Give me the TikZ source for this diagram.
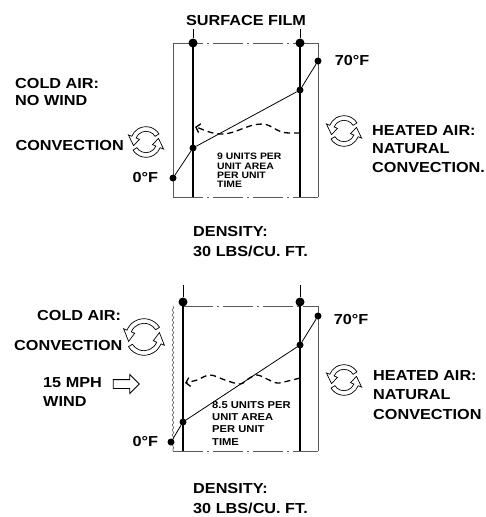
\documentclass[tikz,border=0pt]{standalone}
\usepackage{fontspec}
\setmainfont{Liberation Sans}[FakeStretch=1.12]
\usepackage{tikz}
\usetikzlibrary{arrows.meta, decorations.pathmorphing, positioning, shapes.arrows}

% two hollow curved arrows chasing each other round a circle
\newcommand\convloop[2]{%
  \begin{scope}[shift={#1}]
    \foreach \a in {0,180}{
      \draw[circarrow] (\a+32:#2+2.3pt) arc[start angle=\a+32, end angle=\a+158, radius=#2+2.3pt]
        -- (\a+158:#2+6pt) -- (\a+196:#2) -- (\a+158:#2-6pt) -- (\a+158:#2-2.3pt)
        arc[start angle=\a+158, end angle=\a+32, radius=#2-2.3pt] -- cycle;
    }
  \end{scope}}

\begin{document}
\begin{tikzpicture}[
    x=1pt, y=-1pt,
    >=Stealth,
    lbl/.style={font=\bfseries\fontsize{14.5}{18.5}\selectfont, inner sep=0pt, align=left},
    note/.style={font=\bfseries\fontsize{9.3}{9.4}\selectfont, inner sep=0pt, align=left},
    dot/.style={circle, fill=black, inner sep=0pt, minimum size=7pt},
    bigdot/.style={dot, minimum size=9pt},
    wall/.style={line width=2.4pt},
    rimline/.style={black!65, line width=0.6pt},
    dashdot/.style={dash pattern=on 30pt off 4pt on 2pt off 4pt},
    tline/.style={line width=0.8pt},
    heatflow/.style={line width=1.3pt, dash pattern=on 6pt off 4pt,
                     -{Straight Barb[length=4pt, width=9pt]}},
    circarrow/.style={draw, fill=white, line width=0.7pt},
    windarrow/.style={single arrow, draw, line width=0.8pt, minimum height=26pt,
                      minimum width=18pt, single arrow head extend=5pt, inner sep=4pt},
]
    \useasboundingbox (0,0) rectangle (485,517);

    % ── Upper panel: no wind ─────────────────────
    \coordinate (baseA) at (0,197);
    \draw[rimline] (173,43) -- (173,197);
    \draw[rimline] (318,43) -- (318,197);
    \draw[rimline, dashdot] (173,43) -- (318,43);
    \draw[rimline, dashdot] (173,197) -- (318,197);

    \node[lbl, anchor=north] (film) at (246,15) {SURFACE FILM};
    \node[bigdot] (filmAL) at (193,43) {};
    \node[bigdot] (filmAR) at (300,43) {};
    \draw[tline] (filmAL) -- ([yshift=-3pt]filmAL |- film.south);
    \draw[tline] (filmAR) -- ([yshift=-3pt]filmAR |- film.south);
    \draw[wall] (filmAL.center) -- (filmAL |- baseA);
    \draw[wall] (filmAR.center) -- (filmAR |- baseA);

    \node[dot] (coldA) at (173,178) {};
    \node[dot] (inA) at (193,148) {};
    \node[dot] (outA) at (300,90) {};
    \node[dot] (hotA) at (318,61) {};
    \draw[tline] (coldA) -- (inA) -- (outA) -- (hotA);
    \node[lbl, left=11pt of coldA] (coldAlbl) {0°F};
    \node[lbl, right=13pt of hotA] (hotAlbl) {70°F};

    \coordinate (fluxAs) at (300,133);
    \coordinate (fluxAe) at (195,127);
    \draw[heatflow] (fluxAs) -- (289,133) .. controls (276,133) and (272,124) .. (262,124)
         .. controls (247,124) and (236,134) .. (222,134)
         .. controls (210,134) and (203,129) .. (fluxAe);
    \node[note, anchor=north west] (fluxA) at (217,153) {9 UNITS PER\\UNIT AREA\\PER UNIT\\TIME};

    \node[lbl, anchor=north west, font=\bfseries\fontsize{14.5}{17}\selectfont] (airA) at (15,78) {COLD AIR:\\NO WIND};
    \node[lbl, anchor=north east] (convA) at (124,140) {CONVECTION};
    \convloop{(146,142)}{13pt}
    \convloop{(344,131)}{13pt}
    \node[lbl, anchor=north west] (heatA) at (372,125) {HEATED AIR:\\NATURAL\\CONVECTION.};
    \node[lbl, anchor=north west, font=\bfseries\fontsize{14.5}{20}\selectfont] (densA) at (193,226) {DENSITY:\\30 LBS/CU. FT.};

    % ── Lower panel: 15 mph wind ─────────────────
    \coordinate (baseB) at (0,451);
    \draw[rimline, decorate, decoration={snake, amplitude=0.8pt, segment length=5pt}]
         (173,306) -- (173,451);
    \draw[rimline] (318,306) -- (318,451);
    \draw[rimline, dashdot] (183,306) -- (318,306);
    \draw[rimline, dashdot] (173,451) -- (318,451);

    \node[bigdot] (filmBL) at (183,302) {};
    \node[bigdot] (filmBR) at (300,302) {};
    \coordinate (tagBL) at (183,285);
    \coordinate (tagBR) at (300,285);
    \draw[tline] (filmBL) -- (tagBL);
    \draw[tline] (filmBR) -- (tagBR);
    \draw[wall] (filmBL.center) -- (filmBL |- baseB);
    \draw[wall] (filmBR.center) -- (filmBR |- baseB);

    \node[dot] (coldB) at (171,442) {};
    \node[dot] (inB) at (183,422) {};
    \node[dot] (outB) at (300,345) {};
    \node[dot] (hotB) at (318,316) {};
    \draw[tline] (coldB) -- (inB) -- (outB) -- (hotB);
    \node[lbl, left=9pt of coldB] (coldBlbl) {0°F};
    \node[lbl, right=12pt of hotB, yshift=-4pt] (hotBlbl) {70°F};

    \coordinate (fluxBs) at (300,378);
    \coordinate (fluxBe) at (185,383);
    \draw[heatflow] plot[smooth, tension=0.6] coordinates {(fluxBs) (288,381) (277,383)
         (267,379) (257,375) (248,379) (240,384) (225,380) (210,375) (197,380) (fluxBe)};
    \node[note, anchor=north west, font=\bfseries\fontsize{10}{12.3}\selectfont] (fluxB)
         at (212,401) {8.5 UNITS PER\\UNIT AREA\\PER UNIT\\TIME};

    \node[lbl, anchor=north west] (airB) at (37,310) {COLD AIR:};
    \node[lbl, anchor=north west] (convB) at (14,340) {CONVECTION};
    \node[lbl, anchor=north west, font=\bfseries\fontsize{14.5}{19.5}\selectfont] (windB) at (43,377) {15 MPH\\WIND};
    \node[windarrow] (windarr) at (124,384) {};
    \convloop{(144,337)}{16pt}
    \convloop{(344,380)}{13pt}
    \node[lbl, anchor=north west, font=\bfseries\fontsize{14.5}{19.5}\selectfont] (heatB) at (373,370) {HEATED AIR:\\NATURAL\\CONVECTION};
    \node[lbl, anchor=north west, font=\bfseries\fontsize{14.5}{20}\selectfont] (densB) at (193,483) {DENSITY:\\30 LBS/CU. FT.};
\end{tikzpicture}
\end{document}
